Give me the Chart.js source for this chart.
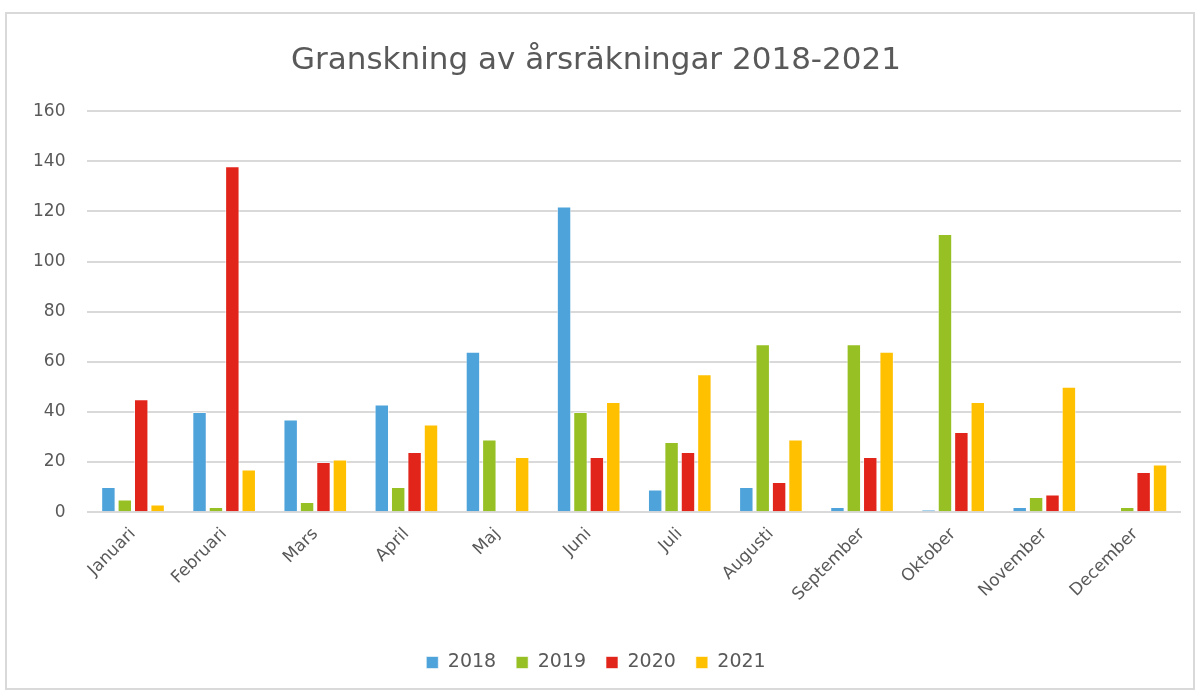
<!DOCTYPE html>
<html>
<head>
<meta charset="utf-8">
<script src="https://cdn.jsdelivr.net/npm/chart.js@4.4.1/dist/chart.umd.min.js"></script>
<style>
    html, body { margin: 0; padding: 0; background: #fff; }
    #box {
        position: absolute; left: 5px; top: 12px; width: 1190px; height: 678px;
        border: 2px solid #d9d9d9; box-sizing: border-box;
    }
    #wrap { position: absolute; left: 0; top: 0; width: 1186px; height: 674px; }
</style>
</head>
<body>
<div id="box"><div id="wrap"><canvas id="chart"></canvas></div></div>
<script>
const months = ["Januari", "Februari", "Mars", "April", "Maj", "Juni", "Juli", "Augusti", "September", "Oktober", "November", "December"];
const years = ["2018", "2019", "2020", "2021"];
const colors = ["#4ea3db", "#97c024", "#e2251b", "#ffc000"];

const v2018 = [10, 40, 37, 43, 64, 122, 9, 10, 2, 1, 2, 0];
const v2019 = [5, 2, 4, 10, 29, 40, 28, 67, 67, 111, 6, 2];
const v2020 = [45, 138, 20, 24, 0, 22, 24, 12, 22, 32, 7, 16];
const v2021 = [3, 17, 21, 35, 22, 44, 55, 29, 64, 44, 50, 19];

const series = [v2018, v2019, v2020, v2021];

const font = "'DejaVu Sans', Verdana, sans-serif";

new Chart(document.getElementById("chart"), {
    type: "bar",
    data: {
        labels: months,
        datasets: series.map((vals, i) => ({
            label: years[i],
            data: vals,
            backgroundColor: colors[i],
            borderColor: "rgba(255,255,255,0.6)",
            borderWidth: 1,
            categoryPercentage: 0.72,
            barPercentage: 0.88
        }))
    },
    options: {
        responsive: true,
        maintainAspectRatio: false,
        animation: false,
        layout: { padding: { left: 4, right: 12, top: 28, bottom: 6 } },
        plugins: {
            title: {
                display: true,
                text: "Granskning av årsräkningar 2018-2021",
                color: "#595959",
                font: { family: font, size: 31, weight: "normal" },
                padding: { top: 0, bottom: 32 }
            },
            legend: {
                position: "bottom",
                labels: {
                    color: "#595959",
                    font: { family: font, size: 19 },
                    boxWidth: 12,
                    boxHeight: 12,
                    padding: 20
                }
            },
            tooltip: { enabled: false }
        },
        scales: {
            x: {
                grid: { display: false },
                border: { display: false },
                afterFit(scale) {
                    scale.height += 24; // espacio hasta la leyenda
                },
                ticks: {
                    color: "#595959",
                    font: { family: font, size: 17 },
                    minRotation: 45,
                    maxRotation: 45,
                    padding: 4
                }
            },
            y: {
                min: 0,
                max: 160,
                grid: { color: "#d9d9d9", lineWidth: 2, drawTicks: false },
                border: { display: false },
                ticks: {
                    stepSize: 20,
                    color: "#595959",
                    font: { family: font, size: 17 },
                    padding: 22
                }
            }
        }
    }
});
</script>
</body>
</html>
